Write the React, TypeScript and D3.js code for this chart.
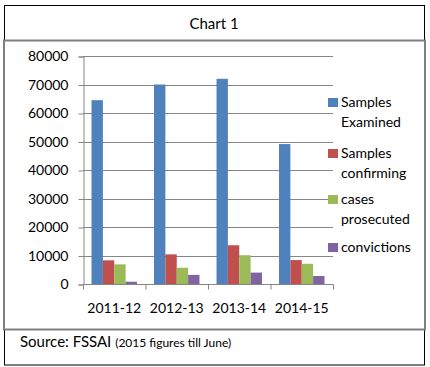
import React, { useEffect, useRef } from "react";
import * as d3 from "d3";

const years = ["2011-12", "2012-13", "2013-14", "2014-15"];
const seriesNames = [
  ["Samples", "Examined"],
  ["Samples", "confirming"],
  ["cases", "prosecuted"],
  ["convictions"],
];
const samplesExamined = [64500, 70000, 72000, 49100];
const samplesConfirming = [8300, 10400, 13600, 8400];
const casesProsecuted = [6900, 5700, 10100, 7100];
const convictions = [800, 3200, 4000, 2800];
const yTicks = [0, 10000, 20000, 30000, 40000, 50000, 60000, 70000, 80000];
const colors = ["#4F81BD", "#C0504D", "#9BBB59", "#8064A2"];

const App = () => {
  const ref = useRef<SVGSVGElement>(null);

  useEffect(() => {
    const svg = d3.select(ref.current);
    svg.selectAll("*").remove();
    const font = "Lato, 'Open Sans', sans-serif";
    const allSeries = [samplesExamined, samplesConfirming, casesProsecuted, convictions];

    svg.append("rect").attr("width", 430).attr("height", 367).attr("fill", "#fff");

    // title box
    svg.append("rect")
      .attr("x", 4.5).attr("y", 5.5).attr("width", 420).attr("height", 35)
      .attr("fill", "none").attr("stroke", "#000");
    svg.append("text")
      .attr("x", 214).attr("y", 29)
      .attr("text-anchor", "middle")
      .style("font-family", font).style("font-size", "15px")
      .text("Chart 1");

    // source box
    svg.append("rect")
      .attr("x", 4.5).attr("y", 329.5).attr("width", 420).attr("height", 35.5)
      .attr("fill", "none").attr("stroke", "#000");
    const src = svg.append("text")
      .attr("x", 20).attr("y", 347)
      .style("font-family", font).style("font-size", "15px");
    src.append("tspan").text("Source: FSSAI ");
    src.append("tspan").style("font-size", "12px").text("(2015 figures till June)");

    // chart box
    svg.append("rect")
      .attr("x", 4).attr("y", 40.5).attr("width", 421).attr("height", 289)
      .attr("fill", "#fff").attr("stroke", "#7f7f7f").attr("stroke-width", 2);

    const left = 83, right = 333, top = 56, bottom = 284;
    const x = d3.scaleBand().domain(years).range([left, right]).paddingInner(0).paddingOuter(0);
    const y = d3.scaleLinear().domain([0, 80000]).range([bottom, top]);
    const gap = x.bandwidth() * 0.6 / 4 * 1.5 / 1.5; // excel 150% gap width
    const barW = x.bandwidth() / (4 + 1.5);
    const inner = d3.scaleBand().domain(d3.range(4).map(String))
      .range([barW * 0.75, barW * 4.75]).padding(0);

    // gridlines
    svg.append("g")
      .selectAll("line")
      .data(yTicks.filter((t) => t > 0))
      .join("line")
      .attr("x1", left).attr("x2", right)
      .attr("y1", (d) => Math.round(y(d)) + 0.5).attr("y2", (d) => Math.round(y(d)) + 0.5)
      .attr("stroke", "#868686");

    // bars
    allSeries.forEach((vals, si) => {
      svg.append("g")
        .selectAll("rect")
        .data(vals)
        .join("rect")
        .attr("x", (d, i) => (x(years[i]) as number) + (inner(String(si)) as number))
        .attr("width", inner.bandwidth())
        .attr("y", (d) => y(d))
        .attr("height", (d) => y(0) - y(d))
        .attr("fill", colors[si]);
    });

    // y axis
    const ya = svg.append("g")
      .attr("transform", `translate(${left + 0.5},0.5)`)
      .call(d3.axisLeft(y).tickValues(yTicks).tickSize(5).tickPadding(10).tickFormat((d) => String(d)));
    ya.select(".domain").attr("stroke", "#868686");
    ya.selectAll("line").attr("stroke", "#868686");
    ya.selectAll("text").style("font-family", font).style("font-size", "14px").attr("fill", "#000");

    // x axis
    const xa = svg.append("g").attr("transform", `translate(0.5,${Math.round(y(0)) + 0.5})`);
    xa.append("line").attr("x1", left).attr("x2", right).attr("stroke", "#868686");
    xa.selectAll("line.tk")
      .data([...years.map((c) => x(c) as number), right])
      .join("line")
      .attr("class", "tk")
      .attr("x1", (d) => d).attr("x2", (d) => d)
      .attr("y1", 0).attr("y2", 5)
      .attr("stroke", "#868686");
    svg.append("g")
      .selectAll("text")
      .data(years)
      .join("text")
      .attr("x", (d) => (x(d) as number) + x.bandwidth() / 2)
      .attr("y", 313)
      .attr("text-anchor", "middle")
      .style("font-family", font).style("font-size", "14px")
      .text((d) => d);

    // legend
    const legendY = [98, 149, 195, 243];
    seriesNames.forEach((lines, i) => {
      const g = svg.append("g");
      g.append("rect")
        .attr("x", 328).attr("y", legendY[i]).attr("width", 10).attr("height", 9)
        .attr("fill", colors[i]);
      lines.forEach((t, li) => {
        g.append("text")
          .attr("x", 341).attr("y", legendY[i] + 9 + li * 20)
          .style("font-family", font).style("font-size", "14px")
          .text(t);
      });
    });
  }, []);

  return (
    <svg ref={ref} width={430} height={367} style={{ position: "absolute", left: 0, top: 0 }} />
  );
};

export default App;
